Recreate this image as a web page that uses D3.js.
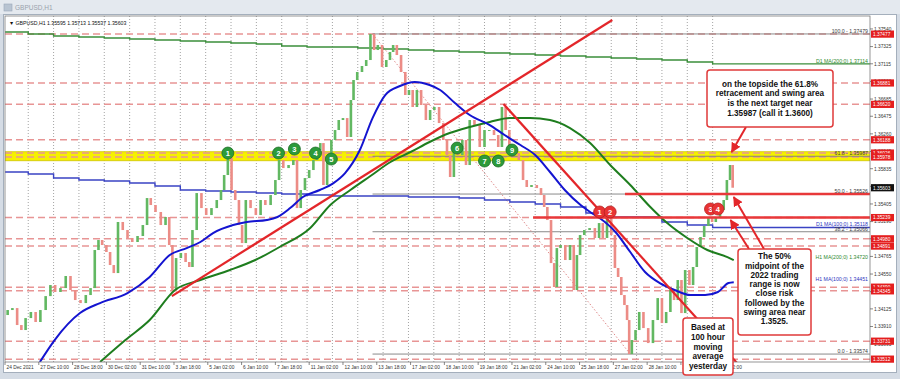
<!DOCTYPE html>
<html>
<head>
<meta charset="utf-8">
<script src="https://cdnjs.cloudflare.com/ajax/libs/d3/7.8.5/d3.min.js"></script>
<style>
body { margin: 0; background: #d6dde6; }
svg { display: block; font-family: 'Liberation Sans', Arial, sans-serif; }
</style>
</head>
<body>
<script>
// GBPUSD H1 - closes, bar index counted from 24 Dec 2021 02:00
var priceBars = [0, 5, 9, 14, 17, 22, 27, 31, 36, 41, 45, 50, 55, 60, 64, 69, 74, 79, 83, 87,
  90, 94, 98, 101, 105, 109, 114, 118, 123, 128, 133, 136, 140, 145, 150, 154, 157, 160, 164, 169,
  173, 176, 179, 184, 188, 193, 198, 203, 206, 209, 213, 216, 220, 223, 226, 230, 235, 240, 244, 249,
  254, 258, 261, 266, 271, 275, 278, 282, 286, 290, 294, 297, 300, 303, 307, 311, 314, 318, 322, 326,
  329, 331, 336, 340, 344, 348, 351, 355, 359, 363, 366, 369, 373, 377, 381, 384, 388, 392, 396, 401,
  404, 409, 413, 417, 420, 423, 427, 431, 435, 438, 442, 447, 452, 456, 461, 465, 469, 472, 476, 479,
  484, 489, 492, 496, 501, 506, 509, 512, 515, 519, 521, 524, 528, 533, 537, 540, 543, 546, 551, 556,
  561, 564, 568, 572, 576, 579, 582, 585, 588, 590, 592, 595, 599, 602, 607, 611, 616, 620, 624, 628,
  632, 635, 639, 642, 646, 650, 653, 657, 660, 664, 668, 671, 675, 679, 682, 685, 688, 690];
var priceCloses = [1.34050, 1.34111, 1.34135, 1.33928, 1.33867, 1.34013, 1.34087, 1.33965, 1.34111, 1.34281,
  1.34416, 1.34331, 1.34379, 1.34526, 1.34355, 1.34233, 1.34196, 1.34294, 1.34379, 1.34843,
  1.34965, 1.34904, 1.34819, 1.34660, 1.34562, 1.35185, 1.35087, 1.34990, 1.34941, 1.35014,
  1.35148, 1.35477, 1.35392, 1.35307, 1.35148, 1.35246, 1.34904, 1.34355, 1.34745, 1.34807,
  1.34697, 1.34636, 1.35087, 1.35538, 1.35355, 1.35270, 1.35355, 1.35453, 1.35575, 1.35758,
  1.35965, 1.35575, 1.35453, 1.35148, 1.34928, 1.35453, 1.35355, 1.35270, 1.35453, 1.35392,
  1.35514, 1.35697, 1.35941, 1.35843, 1.35880, 1.35941, 1.35355, 1.35575, 1.35721, 1.35819,
  1.35941, 1.36063, 1.36148, 1.35636, 1.35941, 1.36185, 1.36307, 1.36429, 1.36453, 1.36222,
  1.36673, 1.36917, 1.37015, 1.37088, 1.37161, 1.37479, 1.37283, 1.37344, 1.37076, 1.37161,
  1.37259, 1.37344, 1.37222, 1.37015, 1.36734, 1.36795, 1.36588, 1.36795, 1.36612, 1.36429,
  1.36551, 1.36588, 1.36392, 1.36185, 1.36002, 1.35734, 1.36063, 1.36002, 1.36185, 1.35880,
  1.36429, 1.36368, 1.36100, 1.36307, 1.36307, 1.36246, 1.36100, 1.36588, 1.36307, 1.36063,
  1.36026, 1.35941, 1.35697, 1.35612, 1.35636, 1.35599, 1.35514, 1.35368, 1.35209, 1.34684,
  1.34392, 1.34867, 1.34904, 1.34721, 1.34904, 1.34355, 1.34782, 1.35026, 1.35087, 1.35111,
  1.34990, 1.35172, 1.34990, 1.35246, 1.35026, 1.34624, 1.34514, 1.34294, 1.34172, 1.33989,
  1.33574, 1.33745, 1.33867, 1.34087, 1.33891, 1.33708, 1.33989, 1.34257, 1.33952, 1.34087,
  1.34355, 1.34233, 1.34477, 1.34074, 1.34599, 1.34416, 1.34636, 1.34880, 1.35002, 1.35136,
  1.35246, 1.35185, 1.35233, 1.35331, 1.35453, 1.35697, 1.35880, 1.35603];

// H1 moving averages
var ma100Bars = [33, 47, 71, 90, 116, 137, 156, 172, 185, 197, 216, 229, 248, 258, 270, 282, 298, 311, 322, 336,
  348, 360, 374, 388, 402, 412, 426, 440, 459, 473, 488, 502, 516, 530, 545, 554, 563, 578, 592, 606,
  620, 634, 649, 663, 675, 685, 690];
var ma100Vals = [1.33477, 1.33745, 1.34074, 1.34196, 1.34318, 1.34514, 1.34782, 1.34867, 1.34941, 1.35050,
  1.35148, 1.35185, 1.35209, 1.35246, 1.35355, 1.35490, 1.35575, 1.35660, 1.35782, 1.36063,
  1.36453, 1.36734, 1.36844, 1.36893, 1.36856, 1.36795, 1.36636, 1.36490, 1.36368, 1.36246,
  1.36124, 1.36002, 1.35795, 1.35575, 1.35392, 1.35307, 1.35233, 1.35063, 1.34819, 1.34575,
  1.34440, 1.34355, 1.34294, 1.34294, 1.34331, 1.34440, 1.34451];
var ma200Bars = [90, 114, 137, 161, 185, 213, 237, 260, 289, 308, 327, 346, 365, 384, 402, 421, 440, 459, 478, 497,
  516, 535, 554, 573, 592, 611, 627, 646, 665, 684, 690];
var ma200Vals = [1.33477, 1.33745, 1.33989, 1.34355, 1.34477, 1.34599, 1.34721, 1.34880, 1.35111, 1.35392,
  1.35575, 1.35746, 1.35917, 1.36039, 1.36161, 1.36270, 1.36344, 1.36405, 1.36453, 1.36453,
  1.36429, 1.36331, 1.36148, 1.35880, 1.35636, 1.35368, 1.35172, 1.34990, 1.34843, 1.34757, 1.34720];

// D1 moving averages, one value per trading day
var d1Ma100 = [1.35795, 1.35771, 1.35721, 1.35697, 1.35685, 1.35660, 1.35624, 1.35575, 1.35563, 1.35551,
  1.35538, 1.35526, 1.35514, 1.35502, 1.35502, 1.35502, 1.35490, 1.35490, 1.35477, 1.35453,
  1.35429, 1.35405, 1.35368, 1.35294, 1.35246, 1.35246, 1.35185, 1.35148, 1.35118];
var d1Ma200 = [1.37503, 1.37478, 1.37454, 1.37442, 1.37429, 1.37417, 1.37405, 1.37393, 1.37381, 1.37368,
  1.37356, 1.37332, 1.37320, 1.37320, 1.37307, 1.37295, 1.37283, 1.37271, 1.37259, 1.37246,
  1.37234, 1.37222, 1.37210, 1.37197, 1.37185, 1.37173, 1.37161, 1.37137, 1.37114];

// support / resistance levels (red dashed)
var levels = [1.37477, 1.36881, 1.36620, 1.36188, 1.36026, 1.35978, 1.35239, 1.34980, 1.34891,
  1.34390, 1.34345, 1.33731, 1.33512];

// fibonacci retracement of the 2022 range
var fibPct = ['100.0', '61.8', '50.0', '38.2', '0.0'];
var fibPrices = [1.37479, 1.35987, 1.35526, 1.35066, 1.33574];
var fibBars = [348, 592];

var priceTicks = [1.37540, 1.37325, 1.37115, 1.36900, 1.36685, 1.36475, 1.36260, 1.36045, 1.35835, 1.35620,
  1.35405, 1.35190, 1.34980, 1.34765, 1.34550, 1.34335, 1.34125, 1.33910, 1.33695];
var timeLabels = ['24 Dec 2021', '27 Dec 10:00', '28 Dec 18:00', '30 Dec 02:00', '31 Dec 10:00', '3 Jan 18:00',
  '5 Jan 02:00', '6 Jan 10:00', '7 Jan 18:00', '11 Jan 02:00', '12 Jan 10:00', '13 Jan 18:00',
  '17 Jan 02:00', '18 Jan 10:00', '19 Jan 18:00', '21 Jan 02:00', '24 Jan 10:00', '25 Jan 18:00',
  '27 Jan 02:00', '28 Jan 10:00', '31 Jan 18:00', '2 Feb 02:00'];
var ohlc = [1.35595, 1.35713, 1.35537, 1.35603];

// numbered touches
var greenMarks = [[211, 1.36026], [259, 1.36026], [274, 1.36075], [294, 1.36026], [309, 1.35953],
  [428, 1.36087], [454, 1.35929], [467, 1.35929], [480, 1.36063]];
var redMarks = [[563, 1.35307], [573, 1.35307], [668, 1.35343], [675, 1.35343]];
var redMarkText = ['1', '2', '3', '4'];

// trend lines [bar, price]
var trendLines = [
  [[158, 1.34281], [575, 1.37649]],
  [[472, 1.36624], [694, 1.33452]]
];
var redHLines = [[587, 1.35526], [500, 1.35239]];

var W = 900, H = 379;
var x = d3.scaleLinear().domain([0, 819]).range([5, 870]);
var y = d3.scaleLinear().domain([1.33477, 1.37698]).range([362, 16]);

var svg = d3.select('body').append('svg')
    .attr('width', W)
    .attr('height', H);

// window frame
svg.append('rect').attr('width', W).attr('height', H).attr('fill', '#d5dce5');
svg.append('rect').attr('width', W).attr('height', 14).attr('fill', '#e4e9ef');
svg.append('rect').attr('x', 4).attr('y', 4).attr('width', 8).attr('height', 7)
    .attr('fill', '#b8c4d2').attr('stroke', '#9aa8b8').attr('stroke-width', 0.6);
svg.append('text').attr('x', 15).attr('y', 10).attr('font-size', 6.5)
    .attr('fill', '#9aa3ad').text('GBPUSD,H1');
svg.append('rect').attr('x', 3.5).attr('y', 14.5).attr('width', 893).attr('height', 358)
    .attr('fill', '#fff').attr('stroke', '#a4afbc');

svg.append('clipPath').attr('id', 'plotclip')
    .append('rect').attr('x', 5).attr('y', 16).attr('width', 865).attr('height', 346);
var g = svg.append('g').attr('clip-path', 'url(#plotclip)');

// daily grid
var gridBars = d3.range(22, 691, 24);
g.selectAll('line.grid')
    .data(gridBars)
    .enter().append('line')
    .attr('x1', d => x(d)).attr('x2', d => x(d))
    .attr('y1', 16).attr('y2', 362)
    .attr('stroke', '#8c8c8c')
    .attr('stroke-width', 0.8)
    .attr('stroke-dasharray', '1,2');

// yellow band on the 61.8 level
g.append('rect')
    .attr('x', 5).attr('width', 865)
    .attr('y', y(fibPrices[1]) - 4.5).attr('height', 9)
    .attr('fill', '#f6f000').attr('stroke', '#cfc400').attr('stroke-width', 0.8);

// dashed levels
g.selectAll('line.lvl')
    .data(levels)
    .enter().append('line')
    .attr('x1', 5).attr('x2', 870)
    .attr('y1', d => y(d)).attr('y2', d => y(d))
    .attr('stroke', '#e89595')
    .attr('stroke-width', 1.5)
    .attr('stroke-dasharray', '7,4');

// fib lines
g.selectAll('line.fib')
    .data(fibPrices)
    .enter().append('line')
    .attr('x1', x(fibBars[0])).attr('x2', 870)
    .attr('y1', d => y(d)).attr('y2', d => y(d))
    .attr('stroke', '#7d7d7d').attr('stroke-width', 0.9);
g.append('line')
    .attr('x1', x(fibBars[0])).attr('y1', y(fibPrices[0]))
    .attr('x2', x(fibBars[1])).attr('y2', y(fibPrices[4]))
    .attr('stroke', '#e08a8a').attr('stroke-width', 1).attr('stroke-dasharray', '1.5,2');

// D1 MAs (stepped)
function dayPts(vals) {
    var pts = vals.map(function (v, k) { return [k ? 22 + 24 * (k - 1) : 0, v]; });
    pts.push([819, vals[vals.length - 1]]);
    return pts;
}
var stepLine = d3.line().x(d => x(d[0])).y(d => y(d[1])).curve(d3.curveStepAfter);
g.append('path').attr('d', stepLine(dayPts(d1Ma200)))
    .attr('fill', 'none').attr('stroke', '#3b8e3b').attr('stroke-width', 1.4);
g.append('path').attr('d', stepLine(dayPts(d1Ma100)))
    .attr('fill', 'none').attr('stroke', '#3a43c4').attr('stroke-width', 1.4);

// candles
var candles = priceCloses.map(function (c, i) {
    return {
        b0: i ? priceBars[i - 1] : priceBars[i] - 3,
        b1: priceBars[i],
        open: i ? priceCloses[i - 1] : c,
        close: c
    };
});
g.selectAll('rect.candle')
    .data(candles)
    .enter().append('rect')
    .attr('x', d => (x(d.b0) + x(d.b1)) / 2 - 1.3)
    .attr('width', 2.6)
    .attr('y', d => y(Math.max(d.open, d.close)))
    .attr('height', d => Math.max(1, Math.abs(y(d.open) - y(d.close))))
    .attr('fill', d => d.close >= d.open ? '#62b862' : '#ec8c86');

// H1 MAs
var maLine = d3.line().x(d => x(d[0])).y(d => y(d[1])).curve(d3.curveMonotoneX);
g.append('path').attr('d', maLine(d3.zip(ma200Bars, ma200Vals)))
    .attr('fill', 'none').attr('stroke', '#1e7d1e').attr('stroke-width', 2);
g.append('path').attr('d', maLine(d3.zip(ma100Bars, ma100Vals)))
    .attr('fill', 'none').attr('stroke', '#1414d0').attr('stroke-width', 2);

// red trend lines and horizontals
g.selectAll('line.trend')
    .data(trendLines)
    .enter().append('line')
    .attr('x1', d => x(d[0][0])).attr('y1', d => y(d[0][1]))
    .attr('x2', d => x(d[1][0])).attr('y2', d => y(d[1][1]))
    .attr('stroke', '#e3262a').attr('stroke-width', 2.2);
g.selectAll('line.hred')
    .data(redHLines)
    .enter().append('line')
    .attr('x1', d => x(d[0])).attr('x2', 870)
    .attr('y1', d => y(d[1])).attr('y2', d => y(d[1]))
    .attr('stroke', '#e8383a').attr('stroke-width', 2.6);

// fib and indicator labels
g.selectAll('text.fib')
    .data(fibPrices)
    .enter().append('text')
    .attr('x', 868).attr('y', d => y(d) - 1.2)
    .attr('text-anchor', 'end').attr('font-size', 5.2).attr('fill', '#3a3a3a')
    .text((d, i) => fibPct[i] + ' - ' + d.toFixed(5));
var maLabels = [
    ['D1 MA(200;0) ' + d1Ma200[d1Ma200.length - 1].toFixed(5), d1Ma200[d1Ma200.length - 1], '#2f8a2f'],
    ['D1 MA(100;0) ' + d1Ma100[d1Ma100.length - 1].toFixed(5), d1Ma100[d1Ma100.length - 1], '#3038c0'],
    ['H1 MA(200;0) ' + ma200Vals[ma200Vals.length - 1].toFixed(5), ma200Vals[ma200Vals.length - 1], '#2f8a2f'],
    ['H1 MA(100;0) ' + ma100Vals[ma100Vals.length - 1].toFixed(5), ma100Vals[ma100Vals.length - 1], '#3038c0']
];
g.selectAll('text.ma')
    .data(maLabels)
    .enter().append('text')
    .attr('x', 868).attr('y', d => y(d[1]) - 1.2)
    .attr('text-anchor', 'end').attr('font-size', 5.2).attr('fill', d => d[2])
    .text(d => d[0]);

// numbered markers
function marks(data, fill, edge, labels) {
    var m = g.selectAll(null).data(data).enter().append('g')
        .attr('transform', d => 'translate(' + x(d[0]) + ',' + y(d[1]) + ')');
    m.append('circle').attr('r', 6).attr('fill', fill).attr('stroke', edge).attr('stroke-width', 0.8);
    m.append('text').attr('y', 2.6).attr('text-anchor', 'middle')
        .attr('font-size', 7.5).attr('font-weight', 'bold').attr('fill', '#fff')
        .text((d, i) => labels ? labels[i] : i + 1);
}
marks(greenMarks, '#2c9a3a', '#1d6d27');
marks(redMarks, '#e83434', '#b82020', redMarkText);

// plot frame
svg.append('rect').attr('x', 5).attr('y', 16).attr('width', 865).attr('height', 346)
    .attr('fill', 'none').attr('stroke', '#7a7a7a').attr('stroke-width', 0.8);

// header
svg.append('text').attr('x', 9).attr('y', 25).attr('font-size', 5.2).attr('fill', '#111')
    .text('\u25BC GBPUSD,H1  ' + ohlc.map(d => d.toFixed(5)).join(' '));

// price axis
var ax = svg.append('g');
ax.selectAll('line').data(priceTicks).enter().append('line')
    .attr('x1', 870).attr('x2', 873).attr('y1', d => y(d)).attr('y2', d => y(d))
    .attr('stroke', '#555').attr('stroke-width', 0.7);
ax.selectAll('text').data(priceTicks).enter().append('text')
    .attr('x', 874).attr('y', d => y(d) + 1.8)
    .attr('font-size', 4.8).attr('fill', '#333')
    .text(d => d.toFixed(5));

var tags = svg.selectAll('g.tag')
    .data(levels.map(d => [d, '#e41e1e']).concat([[ohlc[3], '#111']]))
    .enter().append('g')
    .attr('transform', d => 'translate(871,' + y(d[0]) + ')');
tags.append('rect').attr('y', -3.6).attr('width', 23).attr('height', 7.2).attr('fill', d => d[1]);
tags.append('text').attr('x', 2).attr('y', 1.8).attr('font-size', 4.8).attr('fill', '#fff')
    .text(d => d[0].toFixed(5));

// time axis
var tx = svg.selectAll('g.tlab')
    .data(timeLabels)
    .enter().append('g')
    .attr('transform', (d, i) => 'translate(' + x(i * 32) + ',362)');
tx.append('line').attr('y2', 3).attr('stroke', '#555').attr('stroke-width', 0.7);
tx.append('text').attr('x', 1.5).attr('y', 6.8).attr('font-size', 4.8).attr('fill', '#333')
    .text(d => d);

// callouts
var defs = svg.append('defs');
defs.append('marker').attr('id', 'ah').attr('viewBox', '0 0 10 10')
    .attr('refX', 9).attr('refY', 5).attr('markerWidth', 5).attr('markerHeight', 5)
    .attr('orient', 'auto')
    .append('path').attr('d', 'M0,0L10,5L0,10z').attr('fill', '#e3262a');

var arrows = [
    [[746, 127], [688, 1.36038]],
    [[764, 249], [690, 1.35490]],
    [[749, 249], [687, 1.35209]]
];
svg.selectAll('line.arrow').data(arrows).enter().append('line')
    .attr('x1', d => d[0][0]).attr('y1', d => d[0][1])
    .attr('x2', d => x(d[1][0])).attr('y2', d => y(d[1][1]))
    .attr('stroke', '#e3262a').attr('stroke-width', 2)
    .attr('marker-end', 'url(#ah)');

var callouts = [
    { x: 707, y: 70, w: 126, h: 57, b: 86.5, lh: 9.7,
      lines: ['on the topside the 61.8%', 'retracement and swing area', 'is the next target near', '1.35987 (call it 1.3600)'] },
    { x: 738, y: 249, w: 73, h: 86, b: 259.2, lh: 9.3,
      lines: ['The 50%', 'midpoint of the', '2022 trading', 'range is now', 'close risk', 'followed by the', 'swing area near', '1.3525.'] },
    { x: 683, y: 318, w: 50, h: 57, b: 330, lh: 9.8,
      lines: ['Based at', '100 hour', 'moving', 'average', 'yesterday'] }
];
var cb = svg.selectAll('g.callout').data(callouts).enter().append('g');
cb.append('rect')
    .attr('x', d => d.x).attr('y', d => d.y).attr('width', d => d.w).attr('height', d => d.h)
    .attr('rx', 3).attr('fill', '#fff').attr('stroke', '#e03a3a').attr('stroke-width', 1.5);
cb.each(function (d) {
    d3.select(this).selectAll('text').data(d.lines).enter().append('text')
        .attr('x', d.x + d.w / 2).attr('y', (t, i) => d.b + i * d.lh)
        .attr('text-anchor', 'middle').attr('font-size', 8.2).attr('font-weight', 'bold')
        .attr('fill', '#111').text(t => t);
});
</script>
</body>
</html>
